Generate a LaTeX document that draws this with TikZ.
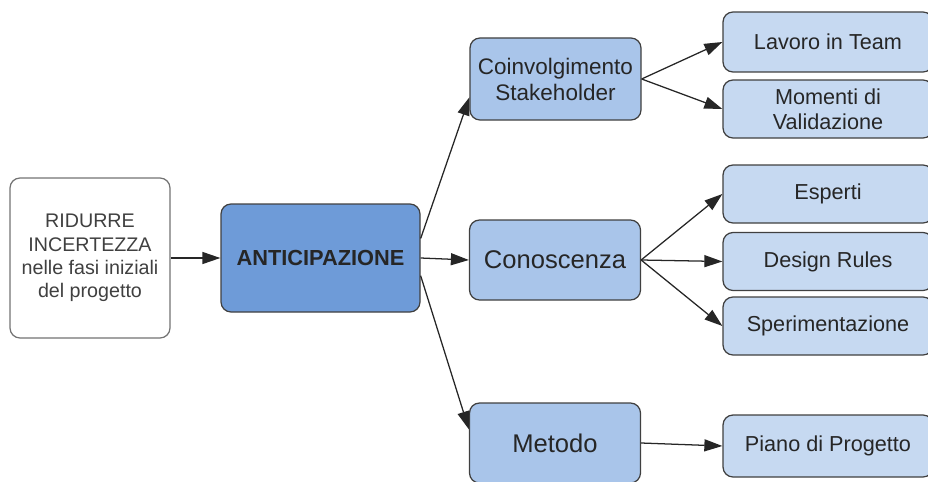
\documentclass[tikz,border=0pt]{standalone}
\usepackage{fontspec}
\setmainfont{Liberation Sans}
\usetikzlibrary{arrows.meta}

\definecolor{rootblue}{HTML}{6E9BD8}
\definecolor{midblue}{HTML}{A9C5EA}
\definecolor{leafblue}{HTML}{C6D9F1}

\begin{document}
\begin{tikzpicture}[
  box/.style={draw=black!75, line width=0.9pt, rounded corners=0.25cm, align=center, inner sep=0pt},
  goalbox/.style={box, draw=black!55, fill=white, text=black!75, minimum width=4cm, minimum height=4cm, font=\fontsize{14}{16.5}\selectfont},
  rootbox/.style={box, fill=rootblue, text=black!85, minimum width=4.975cm, minimum height=2.7cm, font=\bfseries\fontsize{15.5}{18}\selectfont},
  midbox/.style={box, fill=midblue, text=black!85, minimum width=4.275cm, minimum height=2.0cm},
  leafbox/.style={box, fill=leafblue, text=black!85, minimum width=5.25cm, minimum height=1.45cm, font=\fontsize{15.4}{18}\selectfont},
  link/.style={->, >={Triangle[length=4.5mm, width=3mm]}, line width=0.9pt, black!85}
]
\useasboundingbox (0, 0) rectangle (23.2, 12.025);

% Draw boxes.
\node[goalbox] (goal) at (2.25, 5.575) {RIDURRE\\INCERTEZZA\\nelle fasi iniziali\\del progetto};
\node[rootbox] (antic) at (8.0125, 5.575) {ANTICIPAZIONE};

\node[midbox, minimum height=2.05cm, font=\fontsize{16}{18.5}\selectfont] (coinv) at (13.8875, 10.05) {Coinvolgimento\\Stakeholder};
\node[midbox, font=\fontsize{18.2}{21}\selectfont] (conosc) at (13.875, 5.525) {Conoscenza};
\node[midbox, font=\fontsize{18.2}{21}\selectfont] (metodo) at (13.875, 0.95) {Metodo};

\node[leafbox, minimum height=1.5cm] (lavoro) at (20.7, 10.975) {Lavoro in Team};
\node[leafbox] (momenti) at (20.7, 9.3) {Momenti di\\Validazione};
\node[leafbox] (esperti) at (20.7, 7.175) {Esperti};
\node[leafbox] (design) at (20.7, 5.4875) {Design Rules};
\node[leafbox] (sperim) at (20.7, 3.875) {Sperimentazione};
\node[leafbox, minimum height=1.55cm] (piano) at (20.7, 0.875) {Piano di Progetto};

% Draw links.
\draw[link] (goal) -- (antic);
\draw[link] (antic.11) -- (coinv.192);
\draw[link] (antic.east) -- (conosc.west);
\draw[link] (antic.-10) -- (metodo.171);

\draw[link] (coinv.east) -- (lavoro.west);
\draw[link] (coinv.east) -- (momenti.west);

\draw[link] (conosc.east) -- (esperti.west);
\draw[link] (conosc.east) -- (design.west);
\draw[link] (conosc.east) -- (sperim.west);

\draw[link] (metodo.east) -- (piano.west);

\end{tikzpicture}
\end{document}
